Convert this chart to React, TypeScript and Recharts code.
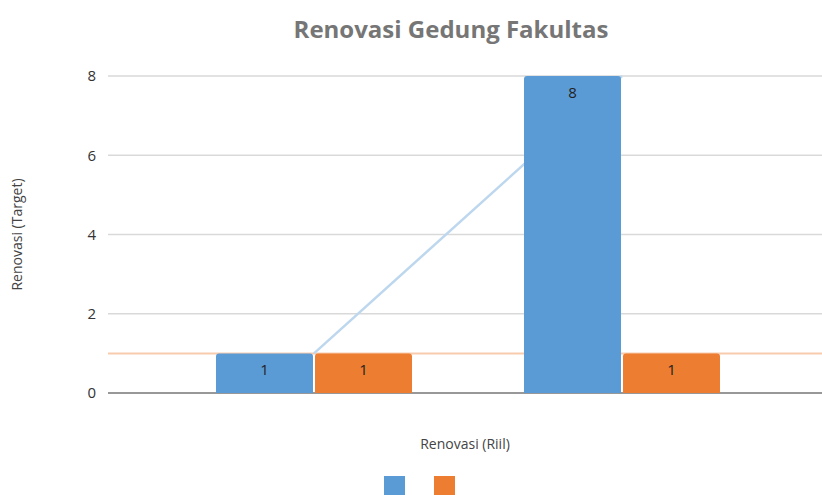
import {
  ComposedChart,
  Bar,
  Line,
  XAxis,
  YAxis,
  CartesianGrid,
  ReferenceLine,
  LabelList,
  Legend
} from 'recharts';

const categories = ['A', 'B'];
const riil = [1, 8];
const target = [1, 1];
const yTicks = [0, 2, 4, 6, 8];

const data = categories.map((c, i) => ({ name: c, riil: riil[i], target: target[i] }));

const BLUE = '#5b9bd5';
const ORANGE = '#ed7d31';
const FONT = '"Open Sans", sans-serif';
const W = 822;
const H = 495;
const MARGIN = { top: 76, right: 0, bottom: 0, left: 0 };

function LegendBoxes({ show }: { show: boolean }) {
  return (
    <div style={{ height: 19, overflow: 'hidden', display: 'flex', gap: 29 }}>
      {show && <div style={{ width: 21, height: 21, background: BLUE }} />}
      {show && <div style={{ width: 21, height: 21, background: ORANGE }} />}
    </div>
  );
}

// both layers share the same axes so the scales line up
function axes(visible: boolean) {
  return [
    <XAxis
      key="x"
      dataKey="name"
      tick={false}
      tickLine={false}
      height={83}
      padding={{ left: 52, right: 46 }}
      axisLine={visible ? { stroke: '#7f7f7f', strokeWidth: 1.5 } : false}
      label={
        visible
          ? {
              value: 'Renovasi (Riil)',
              position: 'insideTop',
              offset: 46,
              style: { fill: '#444', fontSize: 14, fontFamily: FONT }
            }
          : undefined
      }
    />,
    <YAxis
      key="y"
      domain={[0, 8]}
      ticks={yTicks}
      width={108}
      axisLine={false}
      tickLine={false}
      tickSize={0}
      tickMargin={12}
      tick={visible ? { fill: '#333', fontSize: 15, fontFamily: FONT } : false}
      label={
        visible
          ? {
              value: 'Renovasi (Target)',
              angle: -90,
              position: 'insideLeft',
              offset: 17,
              style: { textAnchor: 'middle', fill: '#444', fontSize: 14, fontFamily: FONT }
            }
          : undefined
      }
    />
  ];
}

function bars(visible: boolean) {
  return [
    <Bar
      key="riil"
      dataKey="riil"
      fill={BLUE}
      fillOpacity={visible ? 1 : 0}
      barSize={97}
      radius={[3, 3, 0, 0]}
      isAnimationActive={false}
    >
      {visible && (
        <LabelList
          dataKey="riil"
          position="insideTop"
          offset={11}
          style={{ fill: '#222', fontSize: 15, fontFamily: FONT }}
        />
      )}
    </Bar>,
    <Bar
      key="target"
      dataKey="target"
      fill={ORANGE}
      fillOpacity={visible ? 1 : 0}
      barSize={97}
      radius={[3, 3, 0, 0]}
      isAnimationActive={false}
    >
      {visible && (
        <LabelList
          dataKey="target"
          position="insideTop"
          offset={11}
          style={{ fill: '#222', fontSize: 15, fontFamily: FONT }}
        />
      )}
    </Bar>
  ];
}

export default function App() {
  return (
    <div style={{ position: 'absolute', left: 0, top: 0, width: W, height: H, fontFamily: FONT }}>
      <div
        style={{
          position: 'absolute',
          top: 12,
          left: 0,
          width: 902,
          textAlign: 'center',
          fontSize: 24,
          fontWeight: 700,
          color: '#767676',
          zIndex: 2
        }}
      >
        Renovasi Gedung Fakultas
      </div>

      {/* back layer: grid, target line, riil trend line */}
      <div style={{ position: 'absolute', left: 0, top: 0 }}>
        <ComposedChart width={W} height={H} data={data} margin={MARGIN} barGap={2}>
          <CartesianGrid vertical={false} stroke="#d9d9d9" strokeWidth={1.5} />
          {axes(true)}
          {bars(false)}
          <ReferenceLine y={target[0]} stroke="#f8cbad" strokeWidth={2} />
          <Line
            dataKey="riil"
            stroke="#bdd7ee"
            strokeWidth={2.5}
            dot={false}
            isAnimationActive={false}
          />
          <Legend content={<LegendBoxes show={false} />} wrapperStyle={{ left: 384, width: 80 }} />
        </ComposedChart>
      </div>

      {/* front layer: bars */}
      <div style={{ position: 'absolute', left: 0, top: 0, zIndex: 1 }}>
        <ComposedChart width={W} height={H} data={data} margin={MARGIN} barGap={2}>
          {axes(false)}
          {bars(true)}
          <Legend content={<LegendBoxes show />} wrapperStyle={{ left: 384, width: 80 }} />
        </ComposedChart>
      </div>
    </div>
  );
}
